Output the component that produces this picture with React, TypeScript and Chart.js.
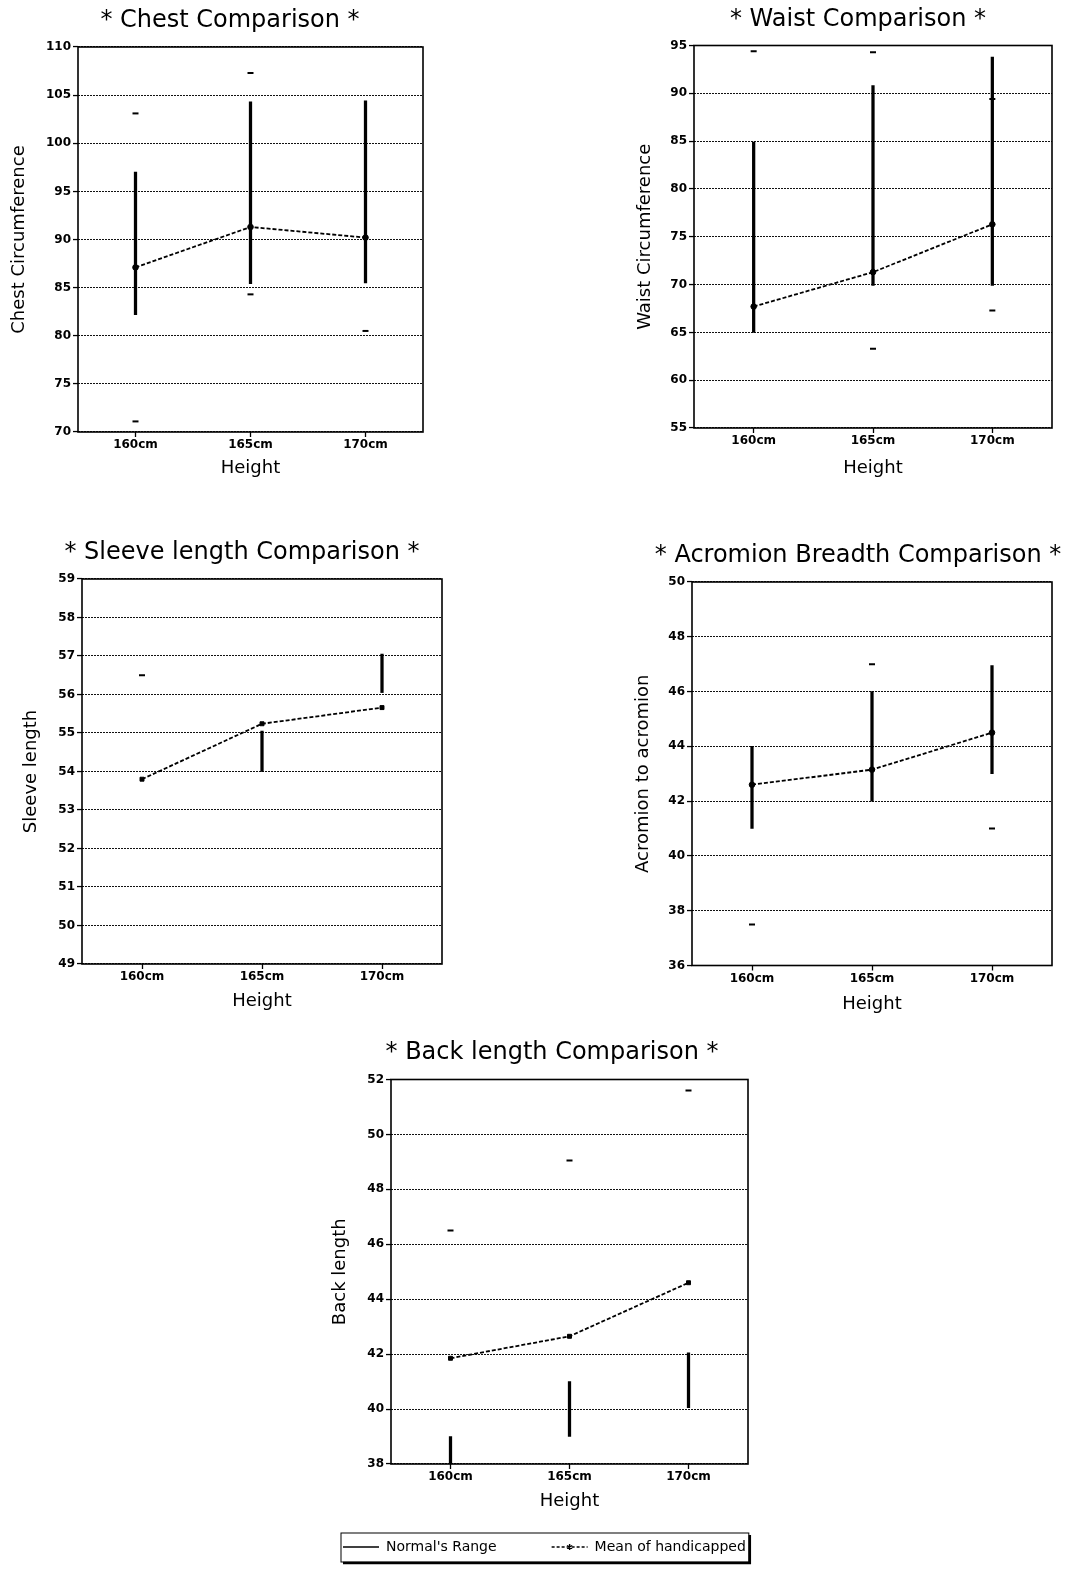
import React, { useEffect, useRef } from 'react';
import { Chart, registerables } from 'chart.js';

Chart.register(...registerables);

const FONT = "'DejaVu Sans', 'Liberation Sans', sans-serif";

// ---------- data ----------
const heightLabels = ['160cm', '165cm', '170cm'];
const legendLabels = ["Normal's Range", 'Mean of handicapped'];

const chestTicks = [70, 75, 80, 85, 90, 95, 100, 105, 110];
const chestRangeLow = [82.2, 85.4, 85.5];
const chestRangeHigh = [97.0, 104.3, 104.4];
const chestMean = [87.1, 91.3, 90.2];
const chestDashUpper = [103.1, 107.3, null];
const chestDashLower = [71.1, 84.3, 80.5];

const waistTicks = [55, 60, 65, 70, 75, 80, 85, 90, 95];
const waistRangeLow = [65.0, 69.9, 69.9];
const waistRangeHigh = [84.9, 90.8, 93.8];
const waistMean = [67.7, 71.3, 76.3];
const waistDashUpper = [94.4, 94.3, 89.4];
const waistDashLower = [null, 63.3, 67.3];

const sleeveTicks = [49, 50, 51, 52, 53, 54, 55, 56, 57, 58, 59];
const sleeveRangeLow = [null, 54.0, 56.05];
const sleeveRangeHigh = [null, 55.05, 57.05];
const sleeveMean = [53.8, 55.24, 55.66];
const sleeveDashUpper = [56.5, null, null];
const sleeveDashLower = [null, null, null];

const acromionTicks = [36, 38, 40, 42, 44, 46, 48, 50];
const acromionRangeLow = [41.0, 42.0, 43.0];
const acromionRangeHigh = [44.0, 46.0, 46.95];
const acromionMean = [42.6, 43.15, 44.5];
const acromionDashUpper = [null, 47.0, null];
const acromionDashLower = [37.5, null, 41.0];

const backTicks = [38, 40, 42, 44, 46, 48, 50, 52];
const backRangeLow = [38.0, 39.0, 40.05];
const backRangeHigh = [39.0, 41.0, 42.05];
const backMean = [41.85, 42.65, 44.6];
const backDashUpper = [46.5, 49.05, 51.6];
const backDashLower = [null, null, null];

// ---------- layout (page coordinates of plot areas & titles) ----------
const LEGEND_PAD = 55;

const charts = [
  {
    key: 'chest', title: '* Chest Comparison *', yTitle: 'Chest Circumference',
    ticks: chestTicks, low: chestRangeLow, high: chestRangeHigh, mean: chestMean,
    dashUp: chestDashUpper, dashDown: chestDashLower, point: 'circle',
    plotL: 78, plotR: 423, plotT: 47, plotB: 432, titleCX: 230, titleCY: 21, yTitleCX: 19.5, xTitleCY: 468,
  },
  {
    key: 'waist', title: '* Waist Comparison *', yTitle: 'Waist Circumference',
    ticks: waistTicks, low: waistRangeLow, high: waistRangeHigh, mean: waistMean,
    dashUp: waistDashUpper, dashDown: waistDashLower, point: 'circle',
    plotL: 694, plotR: 1052, plotT: 45.5, plotB: 428, titleCX: 858, titleCY: 20, yTitleCX: 645, xTitleCY: 468,
  },
  {
    key: 'sleeve', title: '* Sleeve length Comparison *', yTitle: 'Sleeve length',
    ticks: sleeveTicks, low: sleeveRangeLow, high: sleeveRangeHigh, mean: sleeveMean,
    dashUp: sleeveDashUpper, dashDown: sleeveDashLower, point: 'rect',
    plotL: 82, plotR: 442, plotT: 579, plotB: 964, titleCX: 242, titleCY: 553, yTitleCX: 31, xTitleCY: 1001.5,
  },
  {
    key: 'acromion', title: '* Acromion Breadth Comparison *', yTitle: 'Acromion to acromion',
    ticks: acromionTicks, low: acromionRangeLow, high: acromionRangeHigh, mean: acromionMean,
    dashUp: acromionDashUpper, dashDown: acromionDashLower, point: 'circle',
    plotL: 692, plotR: 1052, plotT: 582, plotB: 965.5, titleCX: 858, titleCY: 556, yTitleCX: 643, xTitleCY: 1004.5,
  },
  {
    key: 'back', title: '* Back length Comparison *', yTitle: 'Back length',
    ticks: backTicks, low: backRangeLow, high: backRangeHigh, mean: backMean,
    dashUp: backDashUpper, dashDown: backDashLower, point: 'rect',
    plotL: 391, plotR: 748, plotT: 1079.5, plotB: 1464, titleCX: 552, titleCY: 1052.5, yTitleCX: 340, xTitleCY: 1501,
    legend: true, legendItemTop: 1540, spanLeft: 288,
  },
];

function computeLayout(c: any) {
  const spanLeft = c.spanLeft != null ? c.spanLeft : c.yTitleCX - 10.8;
  const x0 = Math.floor(spanLeft - 2);
  const pl = spanLeft - x0;
  const yTitlePad = c.yTitleCX - 10.8 - spanLeft;
  const yw = c.plotL - spanLeft;
  const spanRight = 2 * c.titleCX - spanLeft;
  const rw = Math.max(spanRight - c.plotR, 0);
  const rightEdge = c.plotR + rw;
  const w = Math.ceil(rightEdge + 2 - x0);
  const pr = x0 + w - rightEdge;
  const y0 = Math.floor(c.titleCY - 14.4);
  const pt = c.titleCY - 14.4 - y0;
  const titlePadBottom = c.plotT - (c.titleCY + 14.4);
  let xh: number, xTitlePad: number, bottomEdge: number;
  if (c.legend) {
    const legendTop = c.legendItemTop - LEGEND_PAD;
    xh = legendTop - c.plotB;
    xTitlePad = c.plotB + xh - 10.8 - c.xTitleCY;
    bottomEdge = legendTop + 14 + LEGEND_PAD + 10;
  } else {
    xh = c.xTitleCY - c.plotB + 10.8;
    xTitlePad = 0;
    bottomEdge = c.plotB + xh;
  }
  const h = Math.ceil(bottomEdge + 2 - y0);
  const pb = y0 + h - bottomEdge;
  return { x0, y0, w, h, pl, pr, pt, pb, yw, rw, xh, xTitlePad, yTitlePad, titlePadBottom };
}

const framePlugin = {
  id: 'frame',
  afterDatasetsDraw(chart: any) {
    const { ctx, chartArea: a } = chart;
    ctx.save();
    ctx.strokeStyle = '#000';
    ctx.lineWidth = 1.6;
    ctx.strokeRect(a.left, a.top, a.right - a.left, a.bottom - a.top);
    ctx.restore();
  },
};

const legendBoxPlugin = {
  id: 'legendBox',
  afterDraw(chart: any) {
    const lg = chart.legend;
    if (!lg || !lg.options.display || !lg.legendHitBoxes || lg.legendHitBoxes.length < 2) return;
    const hb = lg.legendHitBoxes;
    const ctx = chart.ctx;
    const left = hb[0].left - 2;
    const right = hb[hb.length - 1].left + hb[hb.length - 1].width + 3;
    const top = hb[0].top - 7;
    const bottom = hb[0].top + 14 + 8;
    ctx.save();
    ctx.strokeStyle = '#000';
    ctx.lineWidth = 1;
    ctx.strokeRect(left, top, right - left, bottom - top);
    ctx.lineWidth = 2.5;
    ctx.beginPath();
    ctx.moveTo(left + 2, bottom + 1);
    ctx.lineTo(right + 1, bottom + 1);
    ctx.lineTo(right + 1, top + 2);
    ctx.stroke();
    // asterisk marker on the mean sample
    const cx = hb[1].left + 18;
    const cy = hb[1].top + 7;
    ctx.lineWidth = 1.4;
    ctx.beginPath();
    for (let k = 0; k < 3; k++) {
      const ang = (Math.PI / 3) * k + Math.PI / 2;
      ctx.moveTo(cx - Math.cos(ang) * 3, cy - Math.sin(ang) * 3);
      ctx.lineTo(cx + Math.cos(ang) * 3, cy + Math.sin(ang) * 3);
    }
    ctx.stroke();
    ctx.restore();
  },
};

function ComparisonChart({ c }: { c: any }) {
  const ref = useRef<HTMLCanvasElement>(null);
  const L = computeLayout(c);
  useEffect(() => {
    if (!ref.current) return;
    const ticks: number[] = c.ticks;
    const rangeData = c.low.map((lo: number | null, i: number) =>
      lo == null || c.high[i] == null ? null : [lo, c.high[i]]
    );
    const chart = new Chart(ref.current, {
      type: 'bar',
      data: {
        labels: heightLabels,
        datasets: [
          {
            type: 'bar',
            label: legendLabels[0],
            data: rangeData as any,
            backgroundColor: '#000',
            borderWidth: 0,
            barThickness: 2.6,
            yAxisID: 'y',
            order: 3,
          } as any,
          {
            type: 'line',
            label: legendLabels[1],
            data: c.mean,
            borderColor: '#000',
            backgroundColor: '#000',
            borderWidth: 1.8,
            borderDash: [4, 2],
            pointStyle: c.point,
            pointRadius: 2.8,
            pointBackgroundColor: '#000',
            pointBorderColor: '#000',
            pointBorderWidth: 1,
            tension: 0,
            fill: false,
            yAxisID: 'y',
            order: 1,
          },
          {
            type: 'line',
            label: 'upper',
            data: c.dashUp,
            showLine: false,
            pointStyle: 'line',
            pointRadius: 3,
            pointBorderWidth: 2,
            pointBorderColor: '#000',
            borderColor: '#000',
            backgroundColor: '#000',
            yAxisID: 'y',
            order: 2,
          },
          {
            type: 'line',
            label: 'lower',
            data: c.dashDown,
            showLine: false,
            pointStyle: 'line',
            pointRadius: 3,
            pointBorderWidth: 2,
            pointBorderColor: '#000',
            borderColor: '#000',
            backgroundColor: '#000',
            yAxisID: 'y',
            order: 2,
          },
        ],
      },
      options: {
        responsive: false,
        animation: false,
        events: [],
        layout: { padding: { left: L.pl, right: L.pr, top: L.pt, bottom: L.pb } },
        scales: {
          x: {
            type: 'category',
            offset: true,
            grid: {
              display: true,
              drawOnChartArea: false,
              drawTicks: true,
              tickLength: 5,
              offset: false,
              tickColor: '#000',
              tickWidth: 1.3,
            },
            border: { display: false },
            ticks: {
              color: '#000',
              font: { family: FONT, size: 12, weight: 'bold' },
              padding: 1,
              maxRotation: 0,
              autoSkip: false,
            },
            title: {
              display: true,
              text: 'Height',
              color: '#000',
              font: { family: FONT, size: 18 },
              padding: { top: 0, bottom: L.xTitlePad },
            },
            afterFit: (s: any) => { s.height = L.xh; },
          },
          y: {
            type: 'linear',
            position: 'left',
            min: ticks[0],
            max: ticks[ticks.length - 1],
            ticks: {
              stepSize: ticks[1] - ticks[0],
              maxTicksLimit: 20,
              color: '#000',
              font: { family: FONT, size: 12, weight: 'bold' },
              padding: 2,
            },
            grid: {
              color: '#111',
              lineWidth: 1.1,
              tickLength: 5,
              tickColor: '#000',
              tickWidth: 1.3,
              tickBorderDash: [],
            },
            border: { display: false, dash: [2, 1] },
            title: {
              display: true,
              text: c.yTitle,
              color: '#000',
              font: { family: FONT, size: 18 },
              padding: { top: L.yTitlePad, bottom: 0 },
            },
            afterFit: (s: any) => { s.width = L.yw; },
          },
          yr: {
            type: 'linear',
            position: 'right',
            display: true,
            grid: { display: false, drawTicks: false },
            border: { display: false },
            ticks: { display: false },
            afterFit: (s: any) => { s.width = L.rw; },
          },
        },
        plugins: {
          tooltip: { enabled: false },
          title: {
            display: true,
            text: c.title,
            color: '#000',
            font: { family: FONT, size: 24, weight: 'normal' },
            padding: { top: 0, bottom: L.titlePadBottom },
          },
          legend: {
            display: !!c.legend,
            position: 'bottom',
            align: 'start',
            labels: {
              usePointStyle: true,
              pointStyleWidth: 36,
              boxHeight: 4,
              padding: LEGEND_PAD,
              color: '#000',
              font: { family: FONT, size: 14 },
              generateLabels: () => [
                {
                  text: legendLabels[0],
                  pointStyle: 'line',
                  lineWidth: 1.5,
                  strokeStyle: '#000',
                  fillStyle: '#000',
                  fontColor: '#000',
                  lineDash: [],
                  hidden: false,
                  datasetIndex: 0,
                },
                {
                  text: legendLabels[1],
                  pointStyle: 'line',
                  lineWidth: 1.3,
                  strokeStyle: '#000',
                  fillStyle: '#000',
                  fontColor: '#000',
                  lineDash: [3, 2],
                  hidden: false,
                  datasetIndex: 1,
                },
              ],
            },
          },
        },
      } as any,
      plugins: [framePlugin, legendBoxPlugin],
    });
    return () => chart.destroy();
  }, []);
  return (
    <canvas
      ref={ref}
      width={L.w}
      height={L.h}
      style={{ position: 'absolute', left: L.x0, top: L.y0, width: L.w, height: L.h }}
    />
  );
}

export default function App() {
  return (
    <div
      style={{
        position: 'absolute',
        left: 0,
        top: 0,
        width: 1074,
        height: 1570,
        overflow: 'hidden',
        background: '#fff',
      }}
    >
      {charts.map((c) => (
        <ComparisonChart key={c.key} c={c} />
      ))}
    </div>
  );
}
